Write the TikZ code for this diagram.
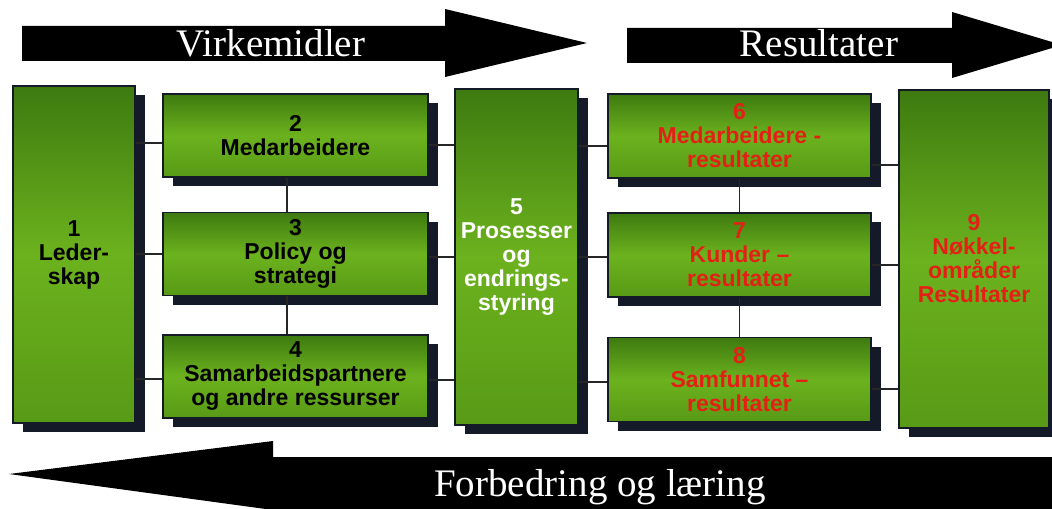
\documentclass[tikz,border=0pt]{standalone}
\usepackage{fontspec}
\setmainfont{Liberation Serif}
\setsansfont{Liberation Sans}
\usetikzlibrary{shadows}
\definecolor{boxtop}{RGB}{62,122,16}
\definecolor{boxmid}{RGB}{108,178,30}
\definecolor{boxbot}{RGB}{88,154,22}
\definecolor{shadowc}{RGB}{20,26,40}
\definecolor{restext}{RGB}{228,32,22}

\begin{document}
\begin{tikzpicture}[x=0.5pt, y=-0.5pt,
  blk/.style={rectangle, draw=shadowc, line width=0.6pt,
              top color=boxtop, bottom color=boxbot, middle color=boxmid,
              font=\sffamily\bfseries\fontsize{11.5}{12}\selectfont,
              align=center, inner sep=1pt,
              drop shadow={shadow xshift=5pt, shadow yshift=-4.5pt,
                           fill=shadowc, opacity=1}},
  wide/.style={blk, minimum width=132.5pt, minimum height=41.5pt},
  tall/.style={blk, minimum width=61pt, minimum height=168.5pt},
  res/.style={text=restext},
  link/.style={draw=black!85, line width=0.7pt},
  bigarrow/.style={fill=black},
  arrowtext/.style={text=white, font=\fontsize{19.5}{20}\selectfont, anchor=base},
]
  \useasboundingbox (0,0) rectangle (1052,508);
  \clip (0,0) rectangle (1052,508);

  % big arrows
  \fill[bigarrow] (22,26) -- (445,26) -- (445,9) -- (587,43) -- (445,77)
    -- (445,61) -- (22,61) -- cycle;
  \node[arrowtext] (virk) at (271,57) {Virkemidler};
  \fill[bigarrow] (627,28) -- (952,28) -- (952,12) -- (1062,45) -- (952,78)
    -- (952,63) -- (627,63) -- cycle;
  \node[arrowtext] (resu) at (819,57) {Resultater};
  \fill[bigarrow] (1060,457) -- (273,457) -- (273,441) -- (9,474) -- (273,510)
    -- (1060,510) -- cycle;
  \node[arrowtext] (forb) at (600,496) {Forbedring og læring};

  % enablers
  \node[tall] (b1) at (74,254.5) {1\\Leder-\\skap};
  \node[wide] (b2) at (295.5,135.5) {2\\Medarbeidere};
  \node[wide] (b3) at (295.5,254) {3\\Policy og\\strategi};
  \node[wide] (b4) at (295.5,376.5) {4\\Samarbeidspartnere\\og andre ressurser};
  \node[tall, minimum width=61.5pt, minimum height=168pt, text=white]
    (b5) at (516.5,257) {5\\Prosesser\\og\\endrings-\\styring};

  % results
  \node[wide, res, minimum width=131.5pt, minimum height=42pt]
    (b6) at (739.5,136) {6\\Medarbeidere -\\resultater};
  \node[wide, res, minimum width=131.5pt, minimum height=42pt]
    (b7) at (739.5,255) {7\\Kunder --\\resultater};
  \node[wide, res, minimum width=131.5pt, minimum height=42pt]
    (b8) at (739.5,379.5) {8\\Samfunnet --\\resultater};
  \node[tall, res, minimum width=75pt, minimum height=169pt]
    (b9) at (974,259) {9\\Nøkkel-\\områder\\Resultater};

  % links
  \draw[link] ([yshift=-3.75pt]b2.west) -- ([yshift=-3.75pt]b2.west -| b1.east);
  \draw[link] (b3.west) -- (b3.west -| b1.east);
  \draw[link] ([yshift=-1.25pt]b4.west) -- ([yshift=-1.25pt]b4.west -| b1.east);
  \draw[link] ([xshift=-4.25pt]b2.south) -- ([xshift=-4.25pt]b2.south |- b3.north);
  \draw[link] ([xshift=-4.25pt]b3.south) -- ([xshift=-4.25pt]b3.south |- b4.north);
  \draw[link] ([yshift=-4.75pt]b2.east) -- ([yshift=-4.75pt]b2.east -| b5.west);
  \draw[link] ([yshift=-1.5pt]b3.east) -- ([yshift=-1.5pt]b3.east -| b5.west);
  \draw[link] ([yshift=-1.75pt]b4.east) -- ([yshift=-1.75pt]b4.east -| b5.west);
  \draw[link] ([yshift=-5pt]b6.west) -- ([yshift=-5pt]b6.west -| b5.east);
  \draw[link] ([yshift=-1pt]b7.west) -- ([yshift=-1pt]b7.west -| b5.east);
  \draw[link] ([yshift=-1.25pt]b8.west) -- ([yshift=-1.25pt]b8.west -| b5.east);
  \draw[link] (b6.south) -- (b7.north);
  \draw[link] (b7.south) -- (b8.north);
  \draw[link] ([yshift=-14.5pt]b6.east) -- ([yshift=-14.5pt]b6.east -| b9.west);
  \draw[link] ([yshift=-5pt]b7.east) -- ([yshift=-5pt]b7.east -| b9.west);
  \draw[link] ([yshift=-4.75pt]b8.east) -- ([yshift=-4.75pt]b8.east -| b9.west);
\end{tikzpicture}
\end{document}
